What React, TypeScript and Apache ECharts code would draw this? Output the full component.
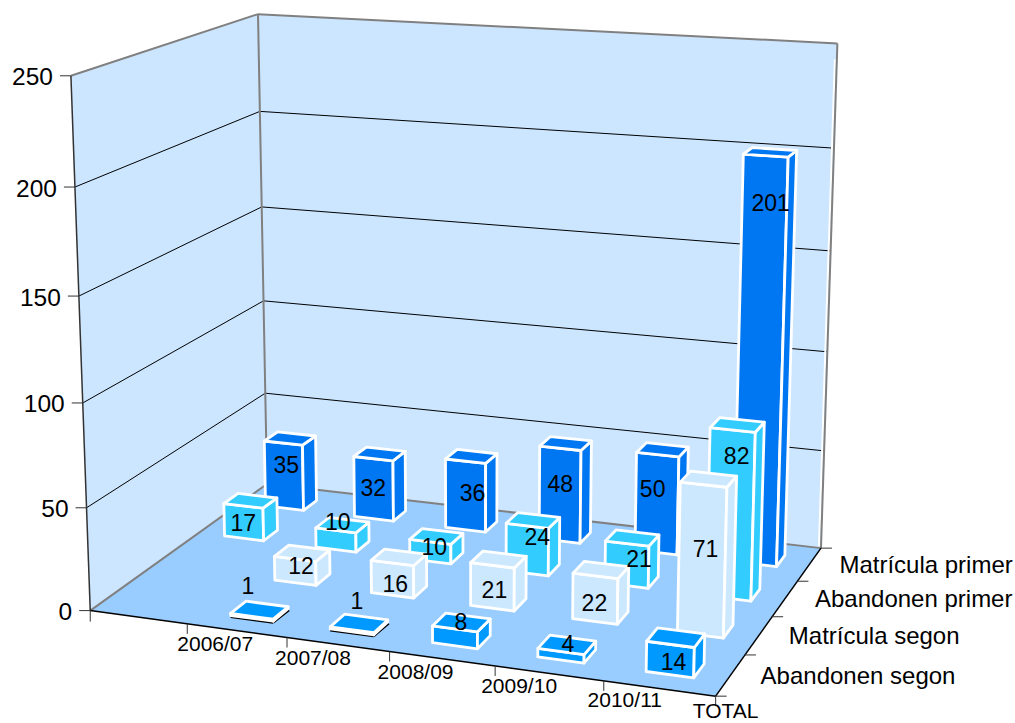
import React, { useEffect, useRef } from "react";
import * as echarts from "echarts";

const categories = ["2006/07", "2007/08", "2008/09", "2009/10", "2010/11", "TOTAL"];
const rows = ["Abandonen segon", "Matrícula segon", "Abandonen primer", "Matrícula primer"];
const abandonenSegon = [null, 1, 1, 8, 4, 14];
const matriculaSegon = [null, 12, 16, 21, 22, 71];
const abandonenPrimer = [17, 10, 10, 24, 21, 82];
const matriculaPrimer = [35, 32, 36, 48, 50, 201];
const yTicks = [0, 50, 100, 150, 200, 250];

const rowValues = [abandonenSegon, matriculaSegon, abandonenPrimer, matriculaPrimer];
const rowColors = ["#0099FF", "#CCE8FF", "#33CCFF", "#0077F2"];

// layout: label offsets from each bar's top-front centre, in pixels
const labelOffsets: (number[] | null)[][] = [
  [null, [-4, -30], [5, -29], [6, -7], [7, -7], [3, 18]],
  [null, [6, 7], [3, 21], [2, 25], [-1, 27], [2, 64]],
  [[0, 17], [2, -8], [4, 5], [10, 11], [12, 15], [4, 26]],
  [[3, 22], [0, 29], [7, 32], [0, 36], [-5, 34], [5, 47]],
];
const catLabelDx = [28, 26, 26, 24, 21, 10];
const catLabelDy = [20, 20, 20, 20, 19, 14];

// layout: camera calibration, unit box (across, up, depth) -> pixels
const calibration: number[][] = [
  [0, 0, 0, 91, 610], [0, 0.2, 0, 87, 508], [0, 0.4, 0, 83, 402], [0, 0.6, 0, 79, 298], [0, 0.8, 0, 75, 187], [0, 1, 0, 70, 76],
  [0, 0, 1, 267, 486], [0, 0.2, 1, 265, 394], [0, 0.4, 1, 264, 300], [0, 0.6, 1, 262, 206], [0, 0.8, 1, 260, 112], [0, 1, 1, 258, 13],
  [1, 0, 1, 820, 548], [1, 0.2, 1, 824, 450], [1, 0.4, 1, 827, 350], [1, 0.6, 1, 830, 250], [1, 0.8, 1, 834, 150], [1, 1, 1, 838, 44],
  [1, 0, 0, 716, 697], [1 / 6, 0, 0, 186, 623], [2 / 6, 0, 0, 287, 637], [3 / 6, 0, 0, 389, 651], [4 / 6, 0, 0, 494, 666], [5 / 6, 0, 0, 605, 681],
  [1, 0, 0.25, 745, 655], [1, 0, 0.5, 773, 617], [1, 0, 0.75, 798, 582],
];

function solveCamera(pts: number[][]): number[] {
  const n = 11;
  const A = Array.from({ length: n }, () => new Array(n + 1).fill(0));
  const add = (r: number[], b: number) => {
    for (let i = 0; i < n; i++) {
      for (let j = 0; j < n; j++) A[i][j] += r[i] * r[j];
      A[i][n] += r[i] * b;
    }
  };
  for (const [X, Y, Z, x, y] of pts) {
    add([X, Y, Z, 1, 0, 0, 0, 0, -x * X, -x * Y, -x * Z], x);
    add([0, 0, 0, 0, X, Y, Z, 1, -y * X, -y * Y, -y * Z], y);
  }
  for (let c = 0; c < n; c++) {
    let p = c;
    for (let r = c + 1; r < n; r++) if (Math.abs(A[r][c]) > Math.abs(A[p][c])) p = r;
    [A[c], A[p]] = [A[p], A[c]];
    for (let r = 0; r < n; r++) {
      if (r === c) continue;
      const f = A[r][c] / A[c][c];
      for (let k = c; k <= n; k++) A[r][k] -= f * A[c][k];
    }
  }
  return A.map((row, i) => row[n] / row[i]);
}
const cam = solveCamera(calibration);
const project = (u: number, v: number, w: number): number[] => {
  const d = cam[8] * u + cam[9] * v + cam[10] * w + 1;
  return [
    (cam[0] * u + cam[1] * v + cam[2] * w + cam[3]) / d,
    (cam[4] * u + cam[5] * v + cam[6] * w + cam[7]) / d,
  ];
};

const WIDTH = 1015;
const HEIGHT = 723;
const FONT = "Liberation Sans, Arial, sans-serif";
const BAR_W = 0.43;
const BAR_D = 0.34;
const rowW = (r: number, t: number) => echarts.number.linearMap(r + t, [0, rows.length], [0, 1]);
// hidden grid fills the whole chart, so its pixels convert directly to box fractions
const toU = (px: number) => px / WIDTH;
const toV = (py: number) => 1 - py / HEIGHT;

const poly = (pts: number[][], fill: string, stroke?: string, lineWidth = 2.8) => ({
  type: "polygon",
  shape: { points: pts },
  style: { fill, stroke: stroke || "none", lineWidth, lineJoin: "round" },
});
const seg = (a: number[], b: number[], stroke: string, lineWidth = 1) => ({
  type: "line",
  shape: { x1: a[0], y1: a[1], x2: b[0], y2: b[1] },
  style: { stroke, lineWidth },
});
const txt = (text: string, x: number, y: number, fontSize: number, textAlign = "center") => ({
  type: "text",
  style: { text, x, y, fontSize, fontFamily: FONT, fill: "#000", textAlign, textVerticalAlign: "middle" },
});

function renderFrame(_: any, api: any) {
  const vOf = (t: number) => toV(api.coord([0, t])[1]);
  const children: any[] = [];
  const p = project;
  children.push(poly([p(0, 0, 0), p(0, 1, 0), p(0, 1, 1), p(0, 0, 1)], "#CCE6FF"));
  children.push(poly([p(0, 0, 1), p(0, 1, 1), p(1, 1, 1), p(1, 0, 1)], "#CCE6FF"));
  children.push(poly([p(0, 0, 0), p(0, 0, 1), p(1, 0, 1), p(1, 0, 0)], "#99CCFF"));
  for (const t of yTicks) {
    const v = vOf(t);
    const left = p(0, v, 0);
    if (t > 0 && t < 250) {
      children.push(seg(left, p(0, v, 1), "#000"));
      children.push(seg(p(0, v, 1), p(1, v, 1), "#000"));
    }
    children.push(seg([left[0] - 11, left[1]], left, "#333"));
    children.push(txt(String(t), left[0] - 18, left[1] + 1, 24.5, "right"));
  }
  const gray = "#808080";
  const br = p(1, 0, 1);
  const brTop = p(1, 0.97, 1);
  children.push(seg([br[0] - 2, br[1] - 2], [brTop[0] - 2, brTop[1]], "#fff", 2));
  children.push(seg(p(0, 1, 0), p(0, 1, 1), gray, 2));
  children.push(seg(p(0, 1, 1), p(1, 1, 1), gray, 2));
  children.push(seg(p(0, 0, 1), p(0, 1, 1), gray, 2));
  children.push(seg(p(1, 0, 1), p(1, 1, 1), gray, 2));
  children.push(seg(p(0, 0, 0), p(0, 0, 1), gray, 2));
  children.push(seg(p(0, 0, 1), p(1, 0, 1), gray, 2));
  children.push(seg(p(0, 0, 0), p(0, 1, 0), "#333", 1.5));
  children.push(seg(p(0, 0, 0), p(1, 0, 0), "#000", 1.5));
  children.push(seg(p(1, 0, 0), p(1, 0, 1), "#000", 1.5));
  const o = p(0, 0, 0);
  children.push(seg(o, [o[0], o[1] + 11], "#333"));
  categories.forEach((c, i) => {
    const q = p((i + 1) / categories.length, 0, 0);
    children.push(seg(q, [q[0], q[1] + 10], "#333"));
    children.push(txt(c, q[0] + catLabelDx[i], q[1] + catLabelDy[i], 21));
  });
  for (let r = 0; r <= rows.length; r++) {
    const q = p(1, 0, rowW(r, 0));
    children.push(seg(q, [q[0] + 11, q[1]], "#333"));
  }
  rows.forEach((name, r) => {
    const q = p(1, 0, rowW(r, 0.5));
    children.push(txt(name, q[0] + 30, q[1], 24, "left"));
  });
  return { type: "group", children };
}

const renderBars = (row: number) => (_: any, api: any) => {
  const val = api.value(1);
  if (val == null || isNaN(val)) return undefined;
  const pt = api.coord([api.value(0), val]);
  const half = toU(api.size([1, 0])[0]) * BAR_W * 0.5;
  const c = toU(pt[0]);
  const v = toV(pt[1]);
  const u0 = c - half;
  const u1 = c + half;
  const w0 = rowW(row, 0.5 - BAR_D / 2);
  const w1 = rowW(row, 0.5 + BAR_D / 2);
  const color = rowColors[row];
  const p = project;
  const children: any[] = [
    poly([p(u0, 0, w0), p(u1, 0, w0), p(u1, v, w0), p(u0, v, w0)], color, "#fff"),
    poly([p(u1, 0, w0), p(u1, 0, w1), p(u1, v, w1), p(u1, v, w0)], color, "#fff"),
    poly([p(u0, v, w0), p(u1, v, w0), p(u1, v, w1), p(u0, v, w1)], color, "#fff"),
  ];
  if (val <= 1) {
    const a = p(u0, 0, w0);
    const b = p(u1, 0, w0);
    const e = p(u1, 0, w1);
    children.unshift(
      seg([a[0], a[1] + 1.5], [b[0], b[1] + 1.5], "#000", 2),
      seg([b[0], b[1] + 1.5], [e[0] + 1, e[1] + 1.5], "#000", 2)
    );
  }
  return { type: "group", children };
};

function renderLabel(_: any, api: any) {
  const cat = api.value(0);
  const val = api.value(1);
  const row = api.value(2);
  const off = labelOffsets[row][cat];
  if (!off) return undefined;
  const pt = api.coord([cat, val]);
  const q = project(toU(pt[0]), toV(pt[1]), rowW(row, 0.5 - BAR_D / 2));
  return txt(String(val), q[0] + off[0], q[1] + off[1], 23);
}

export default function App() {
  const ref = useRef<HTMLDivElement>(null);
  useEffect(() => {
    const chart = echarts.init(ref.current!, undefined, { renderer: "svg" });
    const labelData: number[][] = [];
    rowValues.forEach((vals, r) =>
      vals.forEach((v, i) => {
        if (v != null) labelData.push([i, v, r]);
      })
    );
    chart.setOption({
      animation: false,
      backgroundColor: "#fff",
      grid: { left: 0, top: 0, right: 0, bottom: 0 },
      xAxis: { type: "category", data: categories, show: false },
      yAxis: { type: "value", min: 0, max: 250, interval: 50, show: false },
      series: [
        {
          type: "custom",
          name: "frame",
          silent: true,
          clip: false,
          data: [[0, 0]],
          encode: { x: 0, y: 1 },
          renderItem: renderFrame,
        },
        ...rows
          .map((name, r) => ({
            type: "custom",
            name,
            silent: true,
            clip: false,
            data: rowValues[r].map((v, i) => [i, v]),
            encode: { x: 0, y: 1 },
            renderItem: renderBars(r),
          }))
          .reverse(),
        {
          type: "custom",
          name: "labels",
          silent: true,
          clip: false,
          data: labelData,
          encode: { x: 0, y: 1 },
          renderItem: renderLabel,
        },
      ],
    });
    return () => chart.dispose();
  }, []);
  return (
    <div
      ref={ref}
      style={{ position: "absolute", left: 0, top: 0, width: WIDTH, height: HEIGHT }}
    />
  );
}
